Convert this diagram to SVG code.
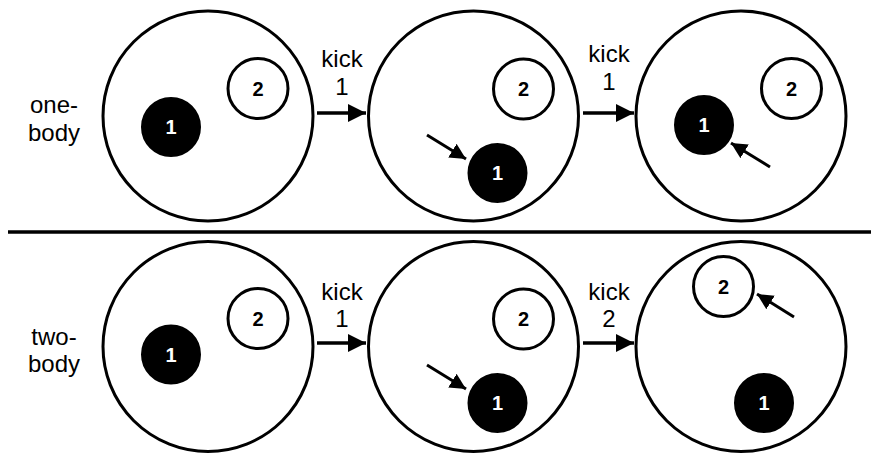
<svg xmlns="http://www.w3.org/2000/svg" width="871" height="454" viewBox="0 0 871 454">
<style>
.big{fill:#fff;stroke:#000;stroke-width:3}
.p2{fill:#fff;stroke:#000;stroke-width:3}
.p1{fill:#000;stroke:#000;stroke-width:2}
.lbl{font-family:"Liberation Sans",Arial,sans-serif;font-size:24px;fill:#000;text-anchor:middle}
.num{font-family:"Liberation Sans",Arial,sans-serif;font-size:20px;font-weight:bold;text-anchor:middle}
.w{fill:#fff}
.k{fill:#000}
.ln{stroke:#000;stroke-width:3.5;fill:none}
.dl{stroke:#000;stroke-width:3;fill:none}
</style>
<defs>
<marker id="ah" markerUnits="userSpaceOnUse" markerWidth="20" markerHeight="18" refX="18" refY="9" orient="auto">
<path d="M0,0 L18,9 L0,18 Z" fill="#000"/>
</marker>
<marker id="ahs" markerUnits="userSpaceOnUse" markerWidth="17" markerHeight="16" refX="16" refY="8" orient="auto">
<path d="M0,0 L16,8 L0,16 Z" fill="#000"/>
</marker>
</defs>
<rect width="871" height="454" fill="#fff"/>
<line x1="8" y1="232" x2="871" y2="232" stroke="#000" stroke-width="3.5"/>
<g id="label-one-body"><text class="lbl" x="54" y="113">one-</text><text class="lbl" x="54" y="141">body</text></g>
<g id="label-two-body"><text class="lbl" x="54" y="345">two-</text><text class="lbl" x="54" y="372">body</text></g>
<g id="top-state-1">
<circle class="big" cx="208" cy="116" r="105"/>
<circle class="p2" cx="258" cy="88.5" r="30"/><text class="num k" x="258" y="96">2</text>
<circle class="p1" cx="171" cy="127" r="29"/><text class="num w" x="171" y="134">1</text>
</g>
<g id="top-state-2">
<circle class="big" cx="473.5" cy="116" r="105"/>
<circle class="p2" cx="523.5" cy="89" r="30"/><text class="num k" x="523.5" y="96">2</text>
<circle class="p1" cx="497.5" cy="173" r="29"/><text class="num w" x="497.5" y="180">1</text>
</g>
<g id="top-state-3">
<circle class="big" cx="741" cy="116" r="105"/>
<circle class="p2" cx="791.5" cy="88.5" r="30"/><text class="num k" x="791.5" y="96">2</text>
<circle class="p1" cx="704" cy="125" r="29"/><text class="num w" x="704" y="132">1</text>
</g>
<g id="bottom-state-1">
<circle class="big" cx="208" cy="346.5" r="105"/>
<circle class="p2" cx="258" cy="318.5" r="30"/><text class="num k" x="258" y="326">2</text>
<circle class="p1" cx="171" cy="354.5" r="29"/><text class="num w" x="171" y="362">1</text>
</g>
<g id="bottom-state-2">
<circle class="big" cx="473.5" cy="346.5" r="105"/>
<circle class="p2" cx="523.5" cy="319" r="30"/><text class="num k" x="523.5" y="326">2</text>
<circle class="p1" cx="497.5" cy="403" r="29"/><text class="num w" x="497.5" y="410">1</text>
</g>
<g id="bottom-state-3">
<circle class="big" cx="741" cy="346.5" r="105"/>
<circle class="p2" cx="723.5" cy="286.5" r="30"/><text class="num k" x="723.5" y="294">2</text>
<circle class="p1" cx="764" cy="403" r="29"/><text class="num w" x="764" y="410">1</text>
</g>
<g id="connectors">
<line class="ln" x1="317" y1="113" x2="366" y2="113" marker-end="url(#ah)"/>
<line class="ln" x1="583" y1="113" x2="634" y2="113" marker-end="url(#ah)"/>
<line class="ln" x1="317" y1="343" x2="366" y2="343" marker-end="url(#ah)"/>
<line class="ln" x1="583" y1="343" x2="634" y2="343" marker-end="url(#ah)"/>
<line class="dl" x1="427" y1="135" x2="466" y2="159" marker-end="url(#ahs)"/>
<line class="dl" x1="770" y1="167" x2="731" y2="143" marker-end="url(#ahs)"/>
<line class="dl" x1="427" y1="365" x2="466" y2="389" marker-end="url(#ahs)"/>
<line class="dl" x1="794" y1="317" x2="757" y2="294" marker-end="url(#ahs)"/>
</g>
<g id="kick-labels">
<text class="lbl" x="342" y="67">kick</text><text class="lbl" x="342" y="95">1</text>
<text class="lbl" x="609" y="62">kick</text><text class="lbl" x="609" y="90">1</text>
<text class="lbl" x="342" y="300">kick</text><text class="lbl" x="342" y="327">1</text>
<text class="lbl" x="609" y="300">kick</text><text class="lbl" x="609" y="327">2</text>
</g>
</svg>
